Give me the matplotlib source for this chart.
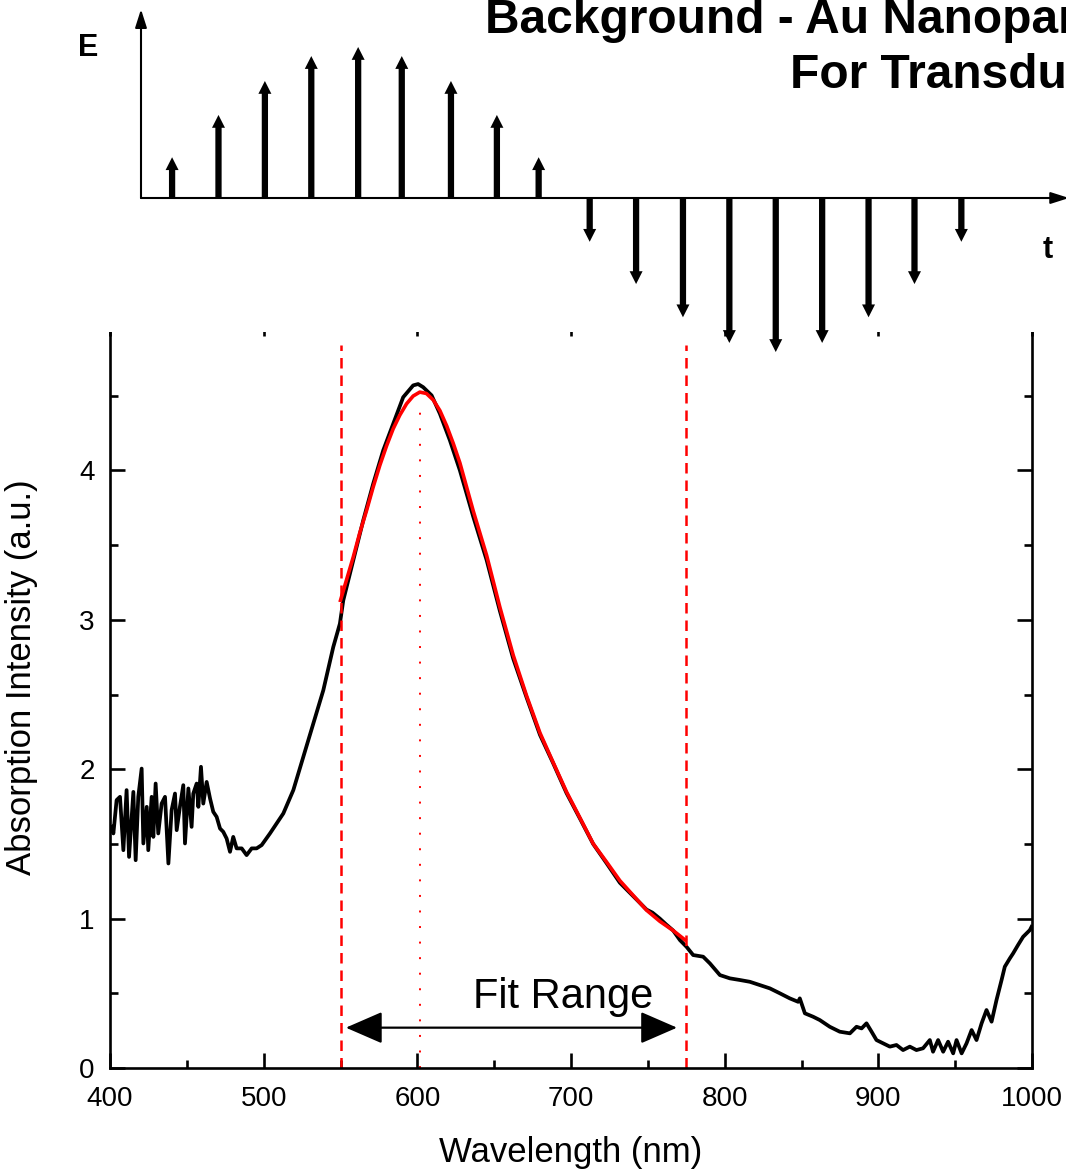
import matplotlib
matplotlib.use('Agg')
import matplotlib.pyplot as plt
from matplotlib.patches import Rectangle
from matplotlib.ticker import MultipleLocator

plt.rcParams['font.family'] = ['Liberation Sans', 'DejaVu Sans']

wl = [401.1, 402.2, 404.3, 406.5, 408.7, 410.8, 412.4, 415.2, 416.7, 418.4,
      420.6, 421.7, 423.9, 424.9, 427.1, 428.2, 429.7, 431.4, 433.6, 435.8,
      438.0, 440.1, 442.3, 443.4, 445.5, 447.7, 448.8, 451.0, 453.1, 454.2,
      456.4, 457.5, 459.2, 460.7, 462.9, 465.1, 467.2, 469.4, 471.6, 473.7,
      475.9, 478.1, 480.2, 482.4, 485.7, 488.9, 492.2, 495.4, 498.7, 504.1,
      512.8, 519.3, 525.8, 532.3, 538.8, 545.3, 549.6, 551.8, 558.3, 564.8,
      571.3, 577.8, 584.3, 590.8, 597.3, 600.5, 603.8, 609.3, 614.7, 621.2,
      627.7, 636.4, 645.1, 653.7, 662.4, 671.1, 679.8, 688.4, 697.1, 705.8,
      714.4, 723.2, 731.8, 740.5, 749.2, 753.0, 757.8, 762.0, 766.5, 770.9,
      775.2, 779.5, 786.0, 790.4, 796.9, 803.4, 809.9, 816.4, 822.9, 829.4,
      835.9, 842.4, 847.8, 848.9, 852.2, 857.6, 861.9, 868.4, 874.9, 881.5,
      885.8, 889.1, 892.3, 895.6, 898.8, 903.1, 907.5, 911.8, 916.1, 920.5,
      924.8, 929.1, 933.5, 935.6, 938.9, 942.2, 945.4, 948.7, 950.9, 954.2,
      957.4, 960.7, 963.9, 967.2, 970.4, 973.7, 976.9, 980.2, 982.3, 985.6,
      987.7, 990.9, 994.2, 996.4, 998.6, 999.7]
absorb = [1.614, 1.570, 1.793, 1.815, 1.458, 1.860, 1.413, 1.848, 1.391, 1.815,
          2.004, 1.503, 1.748, 1.458, 1.815, 1.547, 1.904, 1.570, 1.770, 1.815,
          1.369, 1.726, 1.837, 1.592, 1.748, 1.893, 1.503, 1.871, 1.614, 1.837,
          1.904, 1.748, 2.016, 1.770, 1.915, 1.804, 1.715, 1.681, 1.603, 1.581,
          1.536, 1.447, 1.547, 1.470, 1.470, 1.425, 1.470, 1.470, 1.492, 1.570,
          1.704, 1.860, 2.083, 2.306, 2.528, 2.818, 2.974, 3.130, 3.398, 3.666,
          3.911, 4.134, 4.312, 4.490, 4.569, 4.578, 4.557, 4.502, 4.379, 4.201,
          4.00, 3.69, 3.40, 3.06, 2.74, 2.48, 2.23, 2.04, 1.84, 1.67,
          1.50, 1.37, 1.24, 1.15, 1.06, 1.04, 1.00, 0.96, 0.92, 0.856,
          0.811, 0.756, 0.745, 0.700, 0.622, 0.600, 0.589, 0.577, 0.555, 0.533,
          0.500, 0.466, 0.443, 0.466, 0.366, 0.343, 0.321, 0.276, 0.243, 0.232,
          0.276, 0.265, 0.299, 0.243, 0.187, 0.165, 0.143, 0.154, 0.120, 0.143,
          0.120, 0.132, 0.187, 0.109, 0.187, 0.109, 0.176, 0.098, 0.187, 0.098,
          0.165, 0.254, 0.187, 0.299, 0.388, 0.310, 0.455, 0.589, 0.678, 0.734,
          0.767, 0.823, 0.878, 0.901, 0.923, 0.945]

# fitted curve
fit_wl = [550.0, 554.0, 558.3, 562.5, 567.0, 571.3, 575.6, 580.0, 584.3, 588.6,
          593.0, 597.3, 601.6, 605.9, 610.4, 614.7, 619.1, 623.4, 627.7, 636.4,
          645.1, 653.7, 662.4, 671.1, 679.8, 688.4, 697.1, 705.8, 714.4, 723.2,
          731.8, 740.5, 749.2, 757.8, 766.5, 774.1]
fit_abs = [3.13, 3.27, 3.42, 3.58, 3.733, 3.89, 4.034, 4.165, 4.279, 4.37,
           4.446, 4.498, 4.524, 4.515, 4.471, 4.40, 4.298, 4.18, 4.050, 3.728,
           3.431, 3.085, 2.763, 2.491, 2.243, 2.045, 1.848, 1.675, 1.502, 1.378,
           1.254, 1.155, 1.056, 0.982, 0.920, 0.858]

fit_lo, fit_hi = 550, 775
range_top = 4.84
peak_wl = 602
peak_top = 4.40
arrow_lo, arrow_hi, arrow_y = 553.5, 769, 0.27

# E-field pulse sketch
pulse_t = [0.67, 1.67, 2.67, 3.67, 4.68, 5.62, 6.68, 7.67, 8.57,
           9.67, 10.67, 11.68, 12.68, 13.68, 14.68, 15.68, 16.67, 17.68]
pulse_E = [0.27, 0.55, 0.775, 0.94, 1.0, 0.94, 0.775, 0.55, 0.27,
           -0.29, -0.57, -0.79, -0.96, -1.02, -0.96, -0.79, -0.57, -0.29]

W, H = 1066, 1170
fig = plt.figure(figsize=(W / 100, H / 100), dpi=100)
ax = fig.add_axes([110 / W, 1 - 1068 / H, 922 / W, 747 / H])

ax.plot(wl, absorb, color='black', lw=2.7, solid_joinstyle='round')
ax.plot(fit_wl, fit_abs, color='red', lw=2.6, solid_joinstyle='round')
ax.vlines([fit_lo, fit_hi], 0, range_top, colors='red', lw=1.8,
          linestyles=(0, (4.2, 2.8)))
ax.vlines(peak_wl, 0, peak_top, colors='red', lw=1.4,
          linestyles=(0, (1.0, 7.0)))
ax.annotate('', xy=(arrow_lo, arrow_y), xytext=(arrow_hi, arrow_y),
            arrowprops=dict(arrowstyle='<|-|>,head_length=2.3,head_width=1.0',
                            mutation_scale=10, lw=1.6, color='black',
                            shrinkA=0, shrinkB=0))
ax.text(695, 0.40, 'Fit Range', fontsize=30, ha='center', va='baseline')

ax.set_xlim(400, 1000)
ax.set_ylim(0, 5)
ax.set_yticks([0, 1, 2, 3, 4])
ax.xaxis.set_major_locator(MultipleLocator(100))
ax.xaxis.set_minor_locator(MultipleLocator(50))
ax.yaxis.set_minor_locator(MultipleLocator(0.5))
ax.tick_params(which='both', direction='in', top=True, right=True,
               width=1.9, labelsize=20)
ax.tick_params(axis='x', pad=13)
ax.tick_params(axis='y', pad=11)
ax.tick_params(which='major', length=10.8)
ax.tick_params(which='minor', length=5.8)
for sp in ax.spines.values():
    sp.set_linewidth(1.9)
ax.set_xlabel('Wavelength (nm)', fontsize=25, labelpad=17)
ax.set_ylabel('Absorption Intensity (a.u.)', fontsize=25)
ax.yaxis.set_label_coords(-0.078, 0.523)

# white backing of the pulse sketch over the top of the plot
fig.add_artist(Rectangle((0, 1 - 332 / H), 1, 332 / H, transform=fig.transFigure,
                         facecolor='white', edgecolor='none', zorder=1))

ax_e = fig.add_axes([141 / W, 1 - 360 / H, (W - 141) / W, 360 / H])
ax_e.set_zorder(2)
ax_e.patch.set_visible(False)
ax_e.axis('off')
ax_e.set_xlim(0, (W - 141) / 46.4)
ax_e.set_ylim(-(360 - 198) / 151, 198 / 151)

ax_e.annotate('', xy=(0, 1.25), xytext=(0, 0), annotation_clip=False,
              arrowprops=dict(arrowstyle='-|>,head_length=1.1,head_width=0.35',
                              mutation_scale=10, lw=1.5, color='black',
                              shrinkA=0, shrinkB=0))
ax_e.annotate('', xy=(20.0, 0), xytext=(0, 0), annotation_clip=False,
              arrowprops=dict(arrowstyle='-|>,head_length=1.1,head_width=0.35',
                              mutation_scale=10, lw=1.5, color='black',
                              shrinkA=0, shrinkB=0))
for t, e in zip(pulse_t, pulse_E):
    ax_e.arrow(t, 0, 0, e, width=0.135, head_width=0.28, head_length=0.085,
               length_includes_head=True, fc='black', ec='none')

fig.text(88 / W, 1 - 48.5 / H, 'E', fontsize=22, fontweight='bold',
         ha='center', va='center')
fig.text(1048 / W, 1 - 250 / H, 't', fontsize=22, fontweight='bold',
         ha='center', va='center')
fig.text(485 / W, 1 - 33 / H, 'Background - Au Nanopar', fontsize=34.5,
         fontweight='bold', ha='left', va='baseline')
fig.text(790 / W, 1 - 88 / H, 'For Transdu', fontsize=34.5,
         fontweight='bold', ha='left', va='baseline')

fig.savefig('out.png', dpi=100)
